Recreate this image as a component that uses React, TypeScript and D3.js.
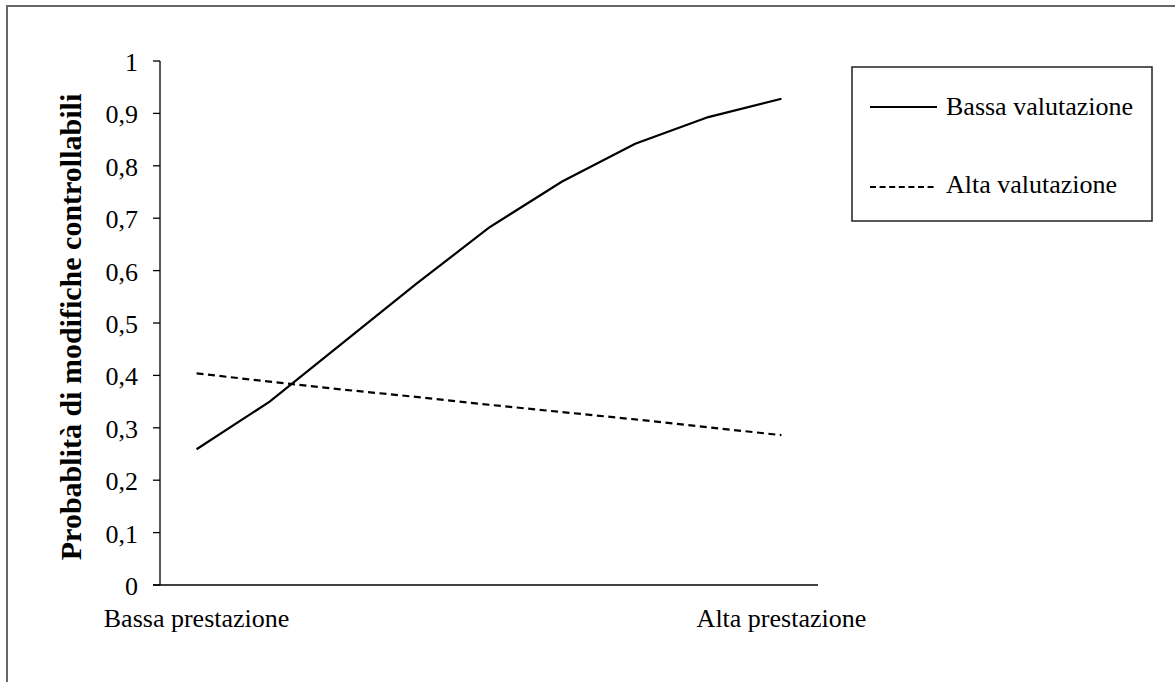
import React from "react";
import * as d3 from "d3";

const categories = ["Bassa prestazione", "", "", "", "", "", "", "", "Alta prestazione"];
const bassaValutazione = [0.259, 0.35, 0.462, 0.574, 0.682, 0.77, 0.842, 0.893, 0.928];
const altaValutazione = [0.404, 0.388, 0.373, 0.359, 0.344, 0.33, 0.316, 0.301, 0.286];
const yTicks = [0, 0.1, 0.2, 0.3, 0.4, 0.5, 0.6, 0.7, 0.8, 0.9, 1];
const seriesNames = ["Bassa valutazione", "Alta valutazione"];
const yTitle = "Probablità di modifiche controllabili";

const FONT = "'Liberation Serif', 'Times New Roman', serif";

export default function App() {
  const x = d3
    .scalePoint<number>()
    .domain(categories.map((_, i) => i))
    .range([160, 818])
    .padding(0.5);
  const y = d3.scaleLinear().domain([0, 1]).range([585, 61]);
  const line = d3
    .line<number>()
    .x((_, i) => x(i) as number)
    .y((d) => y(d));
  const fmt = (v: number) => (v === 0 || v === 1 ? String(v) : v.toFixed(1).replace(".", ","));

  const txt = (key: string, xx: number, yy: number, s: string, anchor: string, size = 26) => (
    <text
      key={key}
      x={xx}
      y={yy}
      textAnchor={anchor as any}
      fontFamily={FONT}
      fontSize={size}
      fill="#000"
    >
      {s}
    </text>
  );

  return (
    <svg
      width={1175}
      height={682}
      style={{ position: "absolute", left: 0, top: 0, background: "#fff" }}
    >
      <rect x={7} y={6} width={1200} height={700} fill="#fff" stroke="#666" strokeWidth={2} />
      {/* y axis */}
      <line x1={160} x2={160} y1={y(1)} y2={y(0)} stroke="#000" strokeWidth={1.3} />
      {yTicks.map((t) => (
        <g key={t}>
          <line x1={153} x2={160} y1={y(t)} y2={y(t)} stroke="#000" strokeWidth={1.3} />
          {txt("l" + t, 138, y(t) + 10, fmt(t), "end")}
        </g>
      ))}
      {/* x axis */}
      <line x1={153} x2={818} y1={y(0)} y2={y(0)} stroke="#000" strokeWidth={1.3} />
      {categories.map((c, i) => (c ? txt("c" + i, x(i) as number, 627, c, "middle") : null))}
      {/* y title */}
      <text
        transform="translate(70,327) rotate(-90)"
        textAnchor="middle"
        dominantBaseline="central"
        fontFamily={FONT}
        fontWeight="bold"
        fontSize={30}
        fill="#000"
      >
        {yTitle}
      </text>
      {/* series */}
      <path d={line(bassaValutazione) || ""} fill="none" stroke="#000" strokeWidth={2.2} />
      <path
        d={line(altaValutazione) || ""}
        fill="none"
        stroke="#000"
        strokeWidth={2.2}
        strokeDasharray="7,4.5"
      />
      {/* legend */}
      <rect x={852} y={67} width={300} height={154} fill="#fff" stroke="#222" strokeWidth={1.5} />
      <line x1={870} x2={937} y1={107} y2={107} stroke="#000" strokeWidth={2.2} />
      <line x1={870} x2={937} y1={187} y2={187} stroke="#000" strokeWidth={2.2} strokeDasharray="6,3.6" />
      {txt("s0", 946, 115, seriesNames[0], "start")}
      {txt("s1", 946, 193, seriesNames[1], "start")}
    </svg>
  );
}
